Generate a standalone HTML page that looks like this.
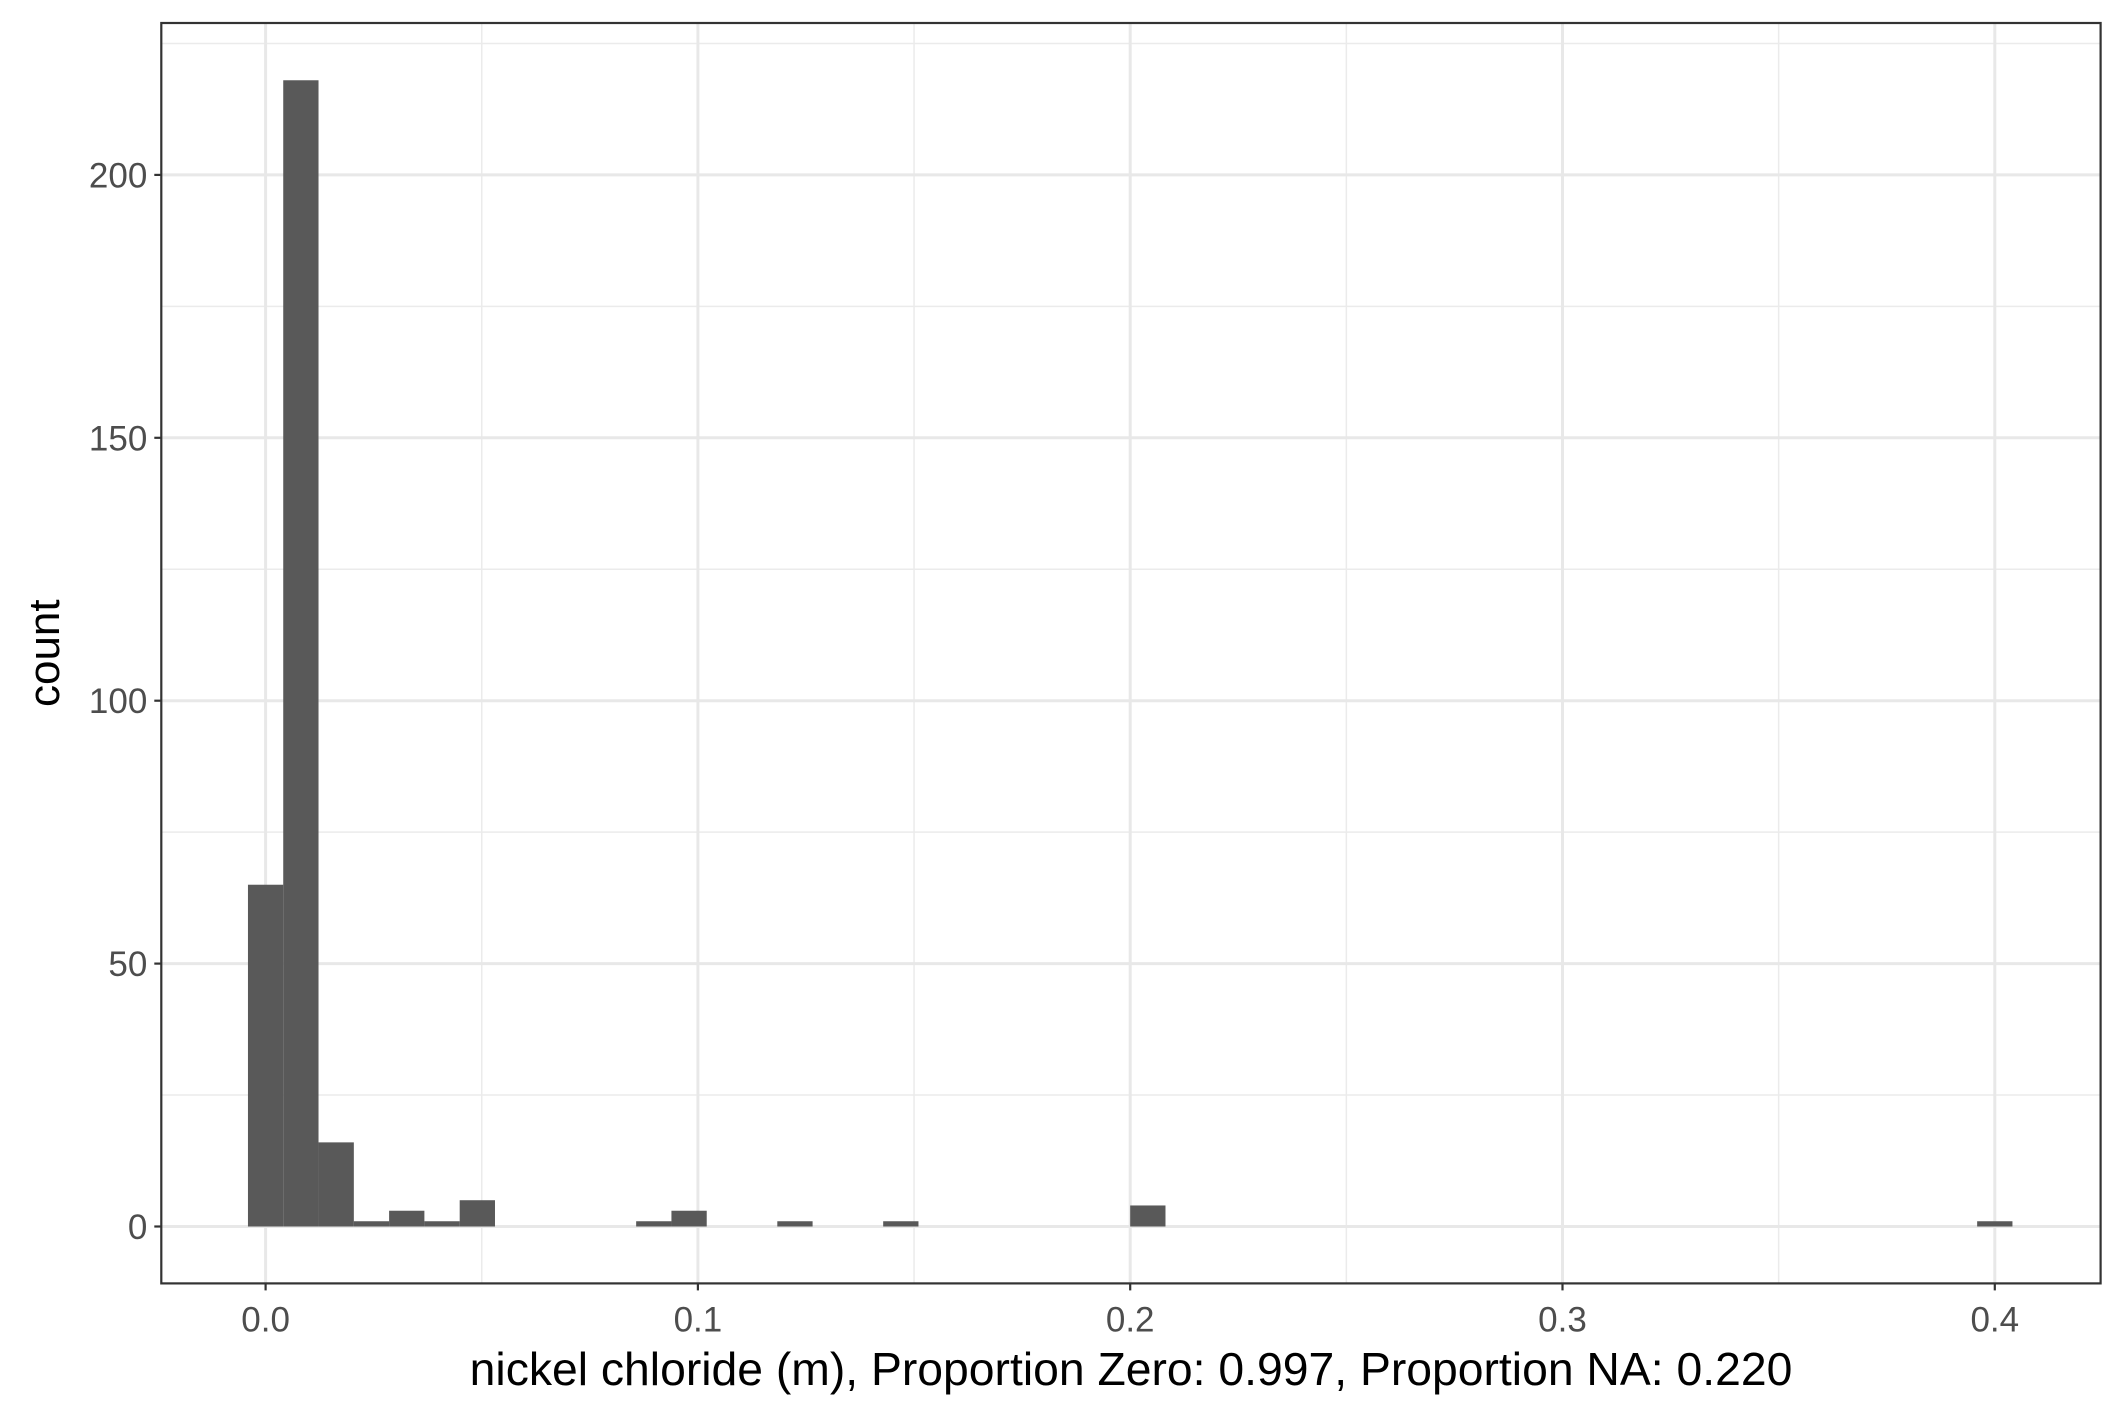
<!DOCTYPE html>
<html><head><meta charset="utf-8"><style>html,body{margin:0;padding:0;background:#fff}svg{display:block}</style></head>
<body>
<svg id="chart" width="2125" height="1417" xmlns="http://www.w3.org/2000/svg" font-family="Liberation Sans, sans-serif"></svg>
<script>
const binCenters = [0, 0.00816, 0.01633, 0.02449, 0.03265, 0.04082, 0.04898, 0.08980, 0.09796, 0.12245, 0.14694, 0.20408, 0.4];
const binCounts = [65, 218, 16, 1, 3, 1, 5, 1, 3, 1, 1, 4, 1];
const binWidth = 0.4/49;
const xTicks = [0, 0.1, 0.2, 0.3, 0.4];
const xTickLabels = ["0.0", "0.1", "0.2", "0.3", "0.4"];
const yTicks = [0, 50, 100, 150, 200];
const yTickLabels = ["0", "50", "100", "150", "200"];

const NS = "http://www.w3.org/2000/svg";
const svg = document.getElementById('chart');
const L = 161.3, R = 2100.6, T = 23, B = 1283.4;
const x = v => 265.6 + v * 4323;
const y = v => 1226.5 - v * (262.9 / 50);
function mk(tag, attrs, parent) {
  const e = document.createElementNS(NS, tag);
  for (const k in attrs) e.setAttribute(k, attrs[k]);
  (parent || svg).appendChild(e);
  return e;
}
const grid = mk('g', {});


for (let i = 0; i < yTicks.length; i++) {
  const v = yTicks[i] + 25;
  if (y(v) > T) {
    const m = mk('line', {x1: L, x2: R, y1: y(v), y2: y(v), stroke: '#ebebeb', 'stroke-width': 1.5}, grid);
    
    
  }
}
for (let i = 0; i < xTicks.length; i++) {
  const v = xTicks[i] + 0.05;
  if (x(v) < R) {
    const m = mk('line', {x1: x(v), x2: x(v), y1: T, y2: B, stroke: '#ebebeb', 'stroke-width': 1.5}, grid);
    
    
  }
}
yTicks.forEach(v => {
  const m = mk('line', {x1: L, x2: R, y1: y(v), y2: y(v), stroke: '#e8e8e8', 'stroke-width': 3}, grid);
  
  
});
xTicks.forEach(v => {
  const m = mk('line', {x1: x(v), x2: x(v), y1: T, y2: B, stroke: '#e8e8e8', 'stroke-width': 3}, grid);
  
  
});
const bars = mk('g', {});


binCenters.forEach((c, i) => {
  const x0 = x(c - binWidth / 2), x1 = x(c + binWidth / 2);
  const r = mk('rect', {x: x0, y: y(binCounts[i]), width: x1 - x0, height: y(0) - y(binCounts[i]), fill: '#595959'}, bars);
  
  
});
const border = mk('rect', {x: L, y: T, width: R - L, height: B - T, fill: 'none', stroke: '#333333', 'stroke-width': 2.2});


yTicks.forEach((v, i) => {
  const t = mk('line', {x1: L - 7, x2: L, y1: y(v), y2: y(v), stroke: '#333333', 'stroke-width': 2.2});
  
  
  const tx = mk('text', {x: L - 14, y: y(v) + 12.5, 'text-anchor': 'end', 'font-size': 35, fill: '#4d4d4d'});
  tx.textContent = yTickLabels[i];
  
  
});
xTicks.forEach((v, i) => {
  const t = mk('line', {x1: x(v), x2: x(v), y1: B, y2: B + 7, stroke: '#333333', 'stroke-width': 2.2});
  
  
  const tx = mk('text', {x: x(v), y: B + 48, 'text-anchor': 'middle', 'font-size': 35, fill: '#4d4d4d'});
  tx.textContent = xTickLabels[i];
  
  
});
const xt = mk('text', {x: 1131, y: 1385, 'text-anchor': 'middle', 'font-size': 46.3, fill: '#000'});
xt.textContent = 'nickel chloride (m), Proportion Zero: 0.997, Proportion NA: 0.220';


const yt = mk('text', {x: 0, y: 0, 'text-anchor': 'middle', 'font-size': 44, fill: '#000', transform: `translate(59,${(T + B) / 2}) rotate(-90)`});
yt.textContent = 'count';


</script>
</body></html>
